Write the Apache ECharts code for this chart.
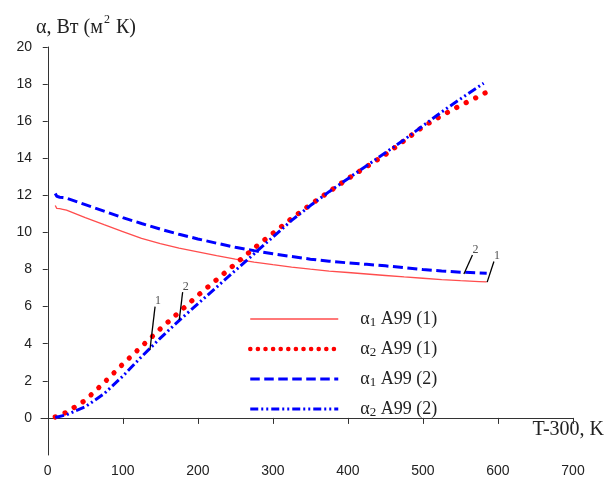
<!DOCTYPE html>
<html><head><meta charset="utf-8">
<script src="https://cdn.jsdelivr.net/npm/echarts@6/dist/echarts.min.js"></script>
<style>html,body{margin:0;padding:0;background:#fff}#c{width:608px;height:479px}</style>
</head><body><div id="c"></div>
<script>
// α1 A99 (1) — red solid
const x_a1_1 = [10,12,14,16,18,20,25,50,75,100,125,150,175,200,225,250,275,300,325,350,375,400,425,450,475,500,525,550,575,585];
const y_a1_1 = [11.45,11.3,11.38,11.28,11.33,11.25,11.2,10.8,10.42,10.05,9.68,9.4,9.15,8.95,8.75,8.56,8.4,8.26,8.13,8.02,7.92,7.84,7.76,7.68,7.6,7.53,7.46,7.4,7.35,7.33];
// α1 A99 (2) — blue dashed
const x_a1_2 = [10,12,14,16,18,20,25,50,75,100,125,150,175,200,225,250,275,300,325,350,375,400,425,450,475,500,525,550,575,585];
const y_a1_2 = [12.1,11.95,12.05,11.9,11.98,11.88,11.85,11.5,11.15,10.8,10.48,10.18,9.9,9.65,9.42,9.2,9.02,8.85,8.7,8.56,8.45,8.36,8.28,8.2,8.1,8.0,7.92,7.86,7.82,7.8];
// α2 A99 (1) — red dotted
const x_a2_1 = [10,25,50,75,100,125,150,175,200,225,250,275,300,325,350,375,400,425,450,475,500,525,550,575,590];
const y_a2_1 = [0.05,0.3,0.95,1.9,2.9,3.85,4.8,5.7,6.6,7.45,8.3,9.15,9.95,10.75,11.5,12.2,12.9,13.55,14.2,14.95,15.7,16.3,16.85,17.35,17.68];
// α2 A99 (2) — blue dash-dot-dot
const x_a2_2 = [10,25,50,75,100,125,150,175,200,225,250,275,300,325,350,375,400,425,450,475,500,525,550,581];
const y_a2_2 = [0.02,0.17,0.6,1.3,2.25,3.3,4.3,5.25,6.15,7.05,7.95,8.85,9.75,10.65,11.45,12.2,12.9,13.6,14.3,15.0,15.75,16.5,17.2,18.05];

const seriesNames = ['α1 A99 (1)','α2 A99 (1)','α1 A99 (2)','α2 A99 (2)'];
const xTicks = [0,100,200,300,400,500,600,700];
const yTicks = [0,2,4,6,8,10,12,14,16,18,20];

// annotation leader lines: [x1,y1,x2,y2,label]
const notes = [
  [136.2,3.67,143,6.0,'1'],
  [175.2,5.28,179.8,6.78,'2'],
  [554.6,7.76,566,8.79,'2'],
  [585.6,7.32,594.6,8.43,'1']
];

const zip = (xs, ys) => xs.map((x,i)=>[x, ys[i]]);

const serif = '"Liberation Serif", "DejaVu Serif", serif';
const sans = '"Liberation Sans", Arial, sans-serif';

const styles = [
  {color:'#ff4d4d', width:1.3, type:'solid'},
  {color:'#ff0000', width:5.2, type:[0.1,10.5], cap:'round'},
  {color:'#0000ff', width:3, type:[10,4.5]},
  {color:'#0000ff', width:3, type:[9,3,2,3,2,3]}
];
const legendStyles = [
  {color:'#ff4d4d', width:1.3, type:'solid'},
  {color:'#ff0000', width:4.5, type:[0.1,7.5], cap:'round'},
  {color:'#0000ff', width:3, type:[9.5,4.5]},
  {color:'#0000ff', width:3, type:[8,3,2,3,2,3]}
];
const datasets = [zip(x_a1_1,y_a1_1), zip(x_a2_1,y_a2_1), zip(x_a1_2,y_a1_2), zip(x_a2_2,y_a2_2)];
const zs = [3,4,3,5];

const main = seriesNames.map((nm,i)=>({
  name:nm, type:'line', data:datasets[i], symbol:'none', z:zs[i],
  lineStyle:styles[i], itemStyle:{color:styles[i].color}
}));

const noteLines = notes.map(n => ({
  type:'line', symbol:'none', silent:true, z:6,
  lineStyle:{color:'#000', width:1.3},
  data:[[n[0],n[1]],[n[2],n[3]]]
}));
const noteLabels = {
  type:'scatter', silent:true, z:7, symbolSize:1, itemStyle:{color:'rgba(0,0,0,0)'},
  data: notes.map(n => ({value:[n[2],n[3]], name:n[4]})),
  label:{show:true, formatter:p=>p.name, position:'top', distance:0, offset:[3,1],
    fontFamily:serif, fontSize:12, color:'#222'}
};

const chart = echarts.init(document.getElementById('c'), null, {renderer:'canvas'});
chart.setOption({
  animation:false,
  backgroundColor:'#fff',
  grid:{left:41, right:35, top:47, bottom:24},
  xAxis:{type:'value', min:-9, max:700,
    axisLine:{lineStyle:{color:'#333', width:1}},
    axisTick:{customValues:xTicks, length:6, lineStyle:{color:'#333'}},
    axisLabel:{customValues:xTicks, fontFamily:sans, fontSize:14, color:'#222', margin:9},
    splitLine:{show:false}},
  yAxis:{type:'value', min:-2, max:20,
    axisLine:{show:true, lineStyle:{color:'#333', width:1}},
    axisTick:{show:true, customValues:yTicks, length:5, lineStyle:{color:'#333'}},
    axisLabel:{customValues:yTicks, fontFamily:sans, fontSize:14, color:'#222', margin:9},
    splitLine:{show:false}},
  legend:{
    data: seriesNames.map((nm,i)=>({name:nm, itemStyle:{opacity:0}, lineStyle:legendStyles[i]})),
    orient:'vertical', left:248, top:309, padding:0, itemWidth:88, itemHeight:20, itemGap:10,
    itemStyle:{opacity:0},
    textStyle:{fontFamily:serif, fontSize:18, color:'#222', padding:[0,0,0,17],
      rich:{a:{fontFamily:serif, fontSize:18, color:'#222', lineHeight:20, verticalAlign:'middle'},
            s:{fontFamily:serif, fontSize:13, color:'#222', lineHeight:20, verticalAlign:'bottom', padding:[7,0,0,0]}}},
    formatter: n => '{a|' + n.charAt(0) + '}{s|' + n.charAt(1) + '}{a|' + n.slice(2) + '}'},
  graphic:[
    {type:'text', left:36, top:14, style:{text:'{a|α, Вт (м}{s|2}{a| К)}', rich:{
      a:{fontFamily:serif, fontSize:20, fill:'#222', lineHeight:24, verticalAlign:'bottom'},
      s:{fontFamily:serif, fontSize:12, fill:'#222', lineHeight:24, verticalAlign:'top', padding:[0,1,0,1]}}}},
    {type:'text', right:4, top:420, style:{text:'T-300, K', fontFamily:serif, fontSize:20, fill:'#222'}}
  ],
  series: main.concat(noteLines, [noteLabels])
});
</script></body></html>
